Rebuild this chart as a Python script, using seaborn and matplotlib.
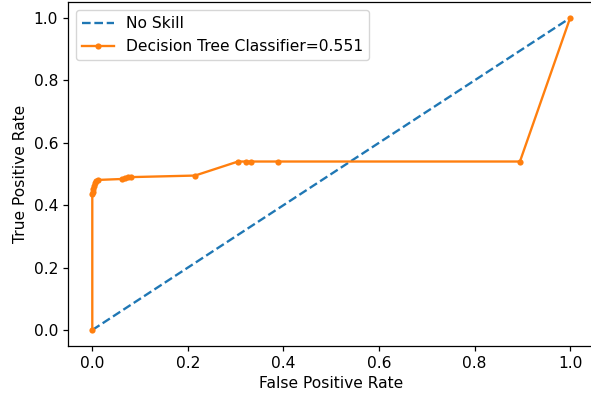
import matplotlib
matplotlib.use("Agg")
import matplotlib.pyplot as plt
import seaborn as sns

# Reference diagonal for a classifier with no skill
ns_fpr = [0.0, 1.0]
ns_tpr = [0.0, 1.0]

# ROC curve points of the decision tree classifier
dt_fpr = [0.0, 0.0, 0.001, 0.002, 0.003, 0.005, 0.008, 0.012,
          0.062, 0.068, 0.075, 0.080, 0.215, 0.305, 0.322, 0.332,
          0.388, 0.895, 1.0]
dt_tpr = [0.0, 0.435, 0.442, 0.452, 0.462, 0.470, 0.477, 0.481,
          0.484, 0.486, 0.489, 0.490, 0.495, 0.540, 0.540, 0.540,
          0.540, 0.540, 1.0]
dt_auc = 0.551

scale = 1.12
plt.rcParams.update({
    "font.size": 10 * scale,
    "axes.linewidth": 0.8 * scale,
    "xtick.major.width": 0.8 * scale,
    "ytick.major.width": 0.8 * scale,
    "xtick.major.size": 3.5 * scale,
    "ytick.major.size": 3.5 * scale,
})

fig = plt.figure(figsize=(5.91, 4.01), dpi=100)
ax = fig.add_axes([68.4 / 591, (401 - 345.6) / 401, (594 - 68.4) / 591, (345.6 - 2.4) / 401])

sns.lineplot(x=ns_fpr, y=ns_tpr, ax=ax, sort=False, estimator=None,
             color="C0", linestyle="--", linewidth=1.5 * scale, label="No Skill")
sns.lineplot(x=dt_fpr, y=dt_tpr, ax=ax, sort=False, estimator=None,
             color="C1", marker=".", markersize=8 * scale, markeredgewidth=0,
             linewidth=1.5 * scale, label=f"Decision Tree Classifier={dt_auc}")

ax.set_xlabel("False Positive Rate")
ax.set_ylabel("True Positive Rate")
ax.set_xlim(-0.05, 1.05)
ax.set_ylim(-0.05, 1.05)
# the right edge of the frame falls past the canvas edge
ax.spines["right"].set_visible(False)
ax.legend(loc="upper left")

fig.savefig("out.png", dpi=100)
